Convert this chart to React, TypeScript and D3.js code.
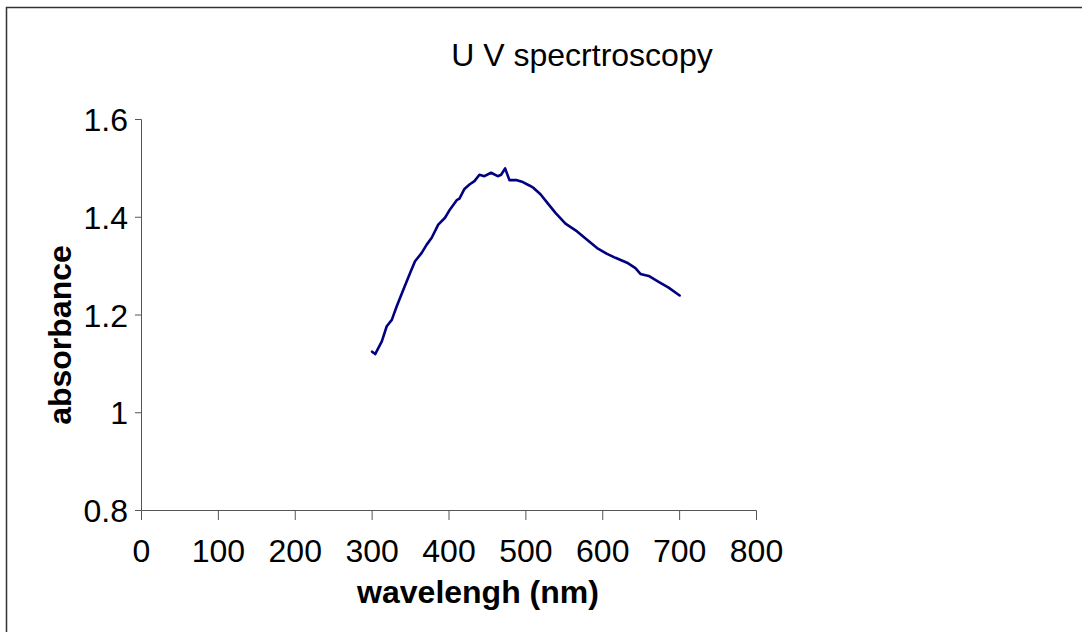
import React from "react";
import * as d3 from "d3";

const wavelength = [300, 304, 312.6, 319, 325.6, 332, 340.7, 349.4, 355.8, 364.5, 371, 377.5, 386, 394.8, 401.3, 410, 413.6, 420.1, 426.6, 433.1, 439.6, 446, 454.7, 463.4, 467.8, 473, 478.6, 487.3, 496, 504.5, 510, 519, 527.7, 538.5, 551.5, 566.6, 579.6, 592.6, 605.6, 616.5, 631.6, 642.5, 649, 659.8, 672.7, 685.7, 700];
const absorbance = [1.125, 1.12, 1.146, 1.177, 1.19, 1.218, 1.252, 1.286, 1.31, 1.327, 1.344, 1.358, 1.385, 1.399, 1.416, 1.435, 1.438, 1.458, 1.467, 1.474, 1.487, 1.484, 1.491, 1.484, 1.487, 1.5, 1.476, 1.476, 1.472, 1.465, 1.46, 1.447, 1.43, 1.409, 1.387, 1.371, 1.354, 1.337, 1.325, 1.317, 1.307, 1.296, 1.284, 1.28, 1.268, 1.256, 1.24];
const xTicks = [0, 100, 200, 300, 400, 500, 600, 700, 800];
const yTicks = [0.8, 1, 1.2, 1.4, 1.6];

const W = 1082, H = 632;
const FONT = "'Liberation Sans', Arial, sans-serif";
const FS = 32;

export default function App() {
  const x = d3.scaleLinear().domain([0, 800]).range([141.5, 756.5]);
  const y = d3.scaleLinear().domain([0.8, 1.6]).range([510.5, 119.5]);
  const line = d3.line<number>().x((_, i) => x(wavelength[i])).y((d) => y(d)).curve(d3.curveLinear);
  return (
    <svg width={W} height={H} style={{ position: "absolute", left: 0, top: 0, background: "#fff" }}>
      <rect x={6.5} y={7.5} width={W + 10} height={H + 10} fill="#fff" stroke="#333" strokeWidth={1.5} />
      <text x={582} y={66} textAnchor="middle" fontFamily={FONT} fontSize={FS}>U V specrtroscopy</text>
      {/* y axis */}
      <line x1={141.5} x2={141.5} y1={119.5} y2={510.5} stroke="#555" />
      {yTicks.map((t) => (
        <g key={t}>
          <line x1={135} x2={141.5} y1={y(t)} y2={y(t)} stroke="#555" />
          <text x={128} y={y(t)} dy="0.36em" textAnchor="end" fontFamily={FONT} fontSize={FS}>{String(t)}</text>
        </g>
      ))}
      {/* x axis */}
      <line x1={141.5} x2={756.5} y1={510.5} y2={510.5} stroke="#555" />
      {xTicks.map((t) => (
        <g key={t}>
          <line x1={x(t)} x2={x(t)} y1={510.5} y2={520} stroke="#555" />
          <text x={x(t)} y={562} textAnchor="middle" fontFamily={FONT} fontSize={FS}>{t}</text>
        </g>
      ))}
      <path d={line(absorbance) || ""} fill="none" stroke="#000080" strokeWidth={2.6} strokeLinejoin="round" strokeLinecap="round" />
      <text x={478} y={603} textAnchor="middle" fontFamily={FONT} fontSize={FS} fontWeight="bold">wavelengh (nm)</text>
      <text transform="translate(71,335) rotate(-90)" textAnchor="middle" fontFamily={FONT} fontSize={FS} fontWeight="bold">absorbance</text>
    </svg>
  );
}
